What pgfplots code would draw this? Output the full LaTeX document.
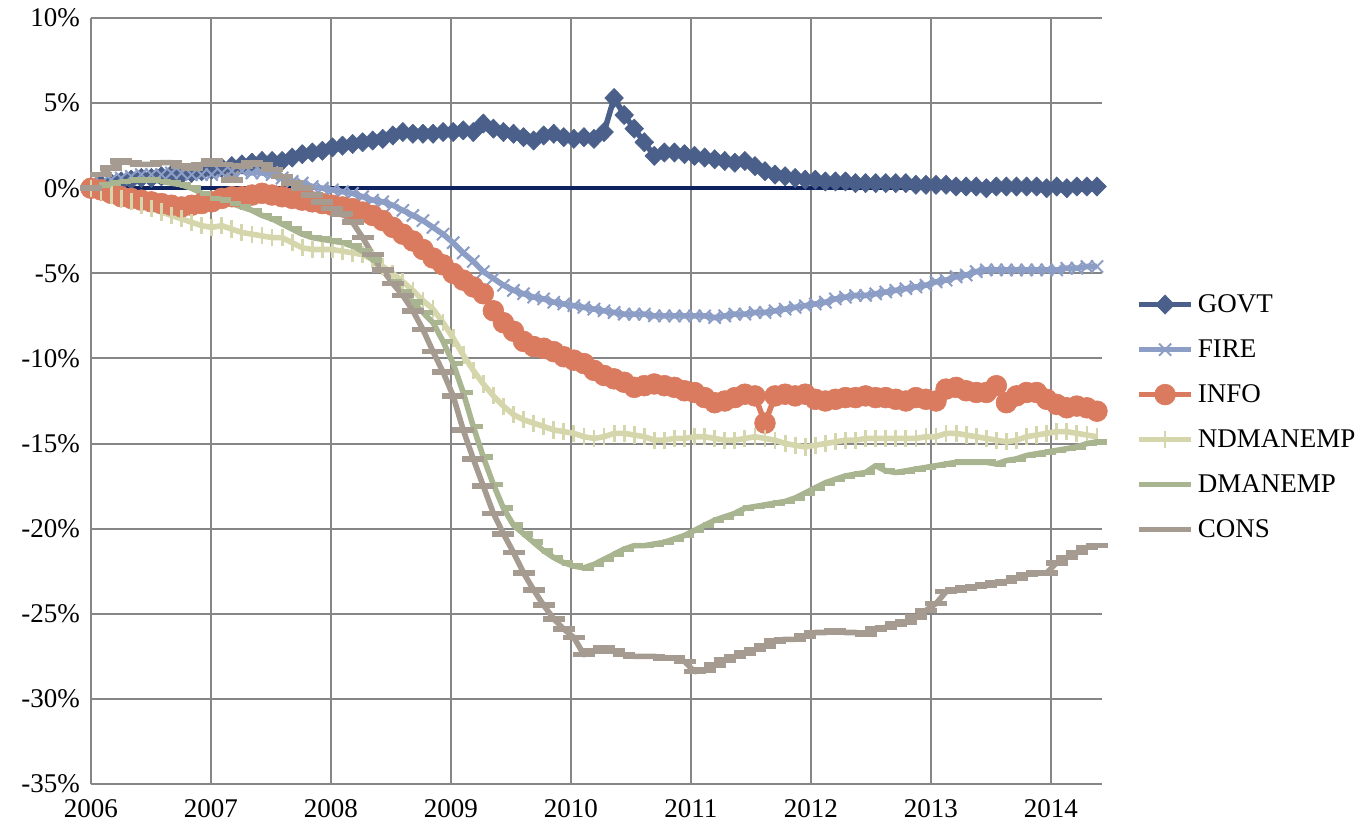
\documentclass[border=0pt]{standalone}
\usepackage{pgfplots}
\pgfplotsset{compat=1.18}
\usepackage{pgfplotstable}
\usepackage{fontspec}
\setmainfont{Liberation Serif}
\definecolor{govtc}{RGB}{74,96,138}
\definecolor{firec}{RGB}{140,157,198}
\definecolor{infoc}{RGB}{218,123,95}
\definecolor{ndmc}{RGB}{213,214,171}
\definecolor{dmc}{RGB}{169,181,145}
\definecolor{consc}{RGB}{166,155,144}
\definecolor{zeroc}{RGB}{14,34,96}
\definecolor{gridc}{RGB}{134,134,134}
\pgfplotstableread{
i govt fire info ndm dm cons
0 0.0 0.0 0.0 0.0 0.0 0.0
1 0.2 0.3 -0.1 -0.2 0.2 0.8
2 0.3 0.5 -0.3 -0.4 0.3 1.2
3 0.4 0.6 -0.5 -0.6 0.4 1.6
4 0.5 0.7 -0.6 -0.8 0.5 1.5
5 0.6 0.8 -0.7 -1.0 0.5 1.4
6 0.6 0.8 -0.8 -1.2 0.5 1.4
7 0.7 0.8 -0.9 -1.4 0.4 1.5
8 0.8 0.9 -1.0 -1.6 0.3 1.5
9 0.8 0.9 -1.1 -1.8 0.2 1.3
10 0.9 0.8 -1.0 -2.0 0.0 1.2
11 1.0 0.8 -0.9 -2.2 -0.3 1.4
12 1.1 0.8 -0.8 -2.3 -0.6 1.6
13 1.2 0.9 -0.6 -2.2 -0.7 1.4
14 1.3 1.0 -0.5 -2.4 -0.9 0.5
15 1.4 1.0 -0.5 -2.6 -1.1 1.3
16 1.5 0.9 -0.4 -2.7 -1.3 1.5
17 1.6 0.9 -0.3 -2.8 -1.6 1.4
18 1.6 0.8 -0.4 -2.9 -1.8 1.1
19 1.6 0.6 -0.5 -2.9 -2.1 0.7
20 1.8 0.4 -0.6 -3.2 -2.4 0.3
21 2.0 0.3 -0.7 -3.5 -2.7 0.0
22 2.1 0.1 -0.8 -3.6 -2.9 -0.4
23 2.2 0.0 -0.9 -3.6 -3.0 -0.8
24 2.4 -0.1 -1.0 -3.6 -3.1 -1.2
25 2.5 -0.2 -1.1 -3.7 -3.2 -1.5
26 2.6 -0.3 -1.2 -3.8 -3.4 -2.0
27 2.7 -0.5 -1.4 -3.9 -3.7 -2.9
28 2.8 -0.7 -1.6 -4.2 -4.2 -3.9
29 2.9 -0.8 -1.9 -4.6 -4.8 -4.8
30 3.1 -1.0 -2.3 -5.0 -5.5 -5.6
31 3.3 -1.3 -2.7 -5.5 -6.1 -6.3
32 3.2 -1.6 -3.1 -6.0 -6.7 -7.2
33 3.2 -1.9 -3.6 -6.6 -7.3 -8.3
34 3.2 -2.3 -4.1 -7.1 -7.9 -9.6
35 3.3 -2.7 -4.5 -7.9 -9.0 -10.8
36 3.3 -3.2 -5.0 -8.8 -10.3 -12.2
37 3.4 -3.8 -5.4 -9.8 -12.0 -14.2
38 3.3 -4.3 -5.8 -10.7 -14.0 -15.9
39 3.8 -4.9 -6.2 -11.5 -15.8 -17.5
40 3.5 -5.3 -7.2 -12.2 -17.4 -19.1
41 3.3 -5.7 -7.9 -12.8 -18.8 -20.3
42 3.2 -6.0 -8.4 -13.3 -19.8 -21.4
43 3.0 -6.2 -9.0 -13.6 -20.3 -22.6
44 2.8 -6.4 -9.3 -13.8 -20.8 -23.6
45 3.1 -6.5 -9.4 -14.0 -21.3 -24.5
46 3.2 -6.7 -9.6 -14.2 -21.7 -25.3
47 3.0 -6.8 -9.9 -14.3 -22.0 -25.9
48 2.9 -6.9 -10.1 -14.4 -22.2 -26.4
49 3.0 -7.0 -10.3 -14.6 -22.3 -27.4
50 2.9 -7.1 -10.7 -14.7 -22.1 -27.2
51 3.3 -7.2 -11.0 -14.6 -21.8 -27.0
52 5.3 -7.3 -11.2 -14.4 -21.5 -27.2
53 4.3 -7.4 -11.4 -14.4 -21.2 -27.4
54 3.5 -7.4 -11.7 -14.5 -21.0 -27.5
55 2.7 -7.4 -11.6 -14.6 -21.0 -27.5
56 1.9 -7.5 -11.5 -14.8 -20.9 -27.5
57 2.1 -7.5 -11.6 -14.8 -20.8 -27.6
58 2.1 -7.5 -11.7 -14.7 -20.6 -27.6
59 2.0 -7.5 -11.9 -14.7 -20.4 -27.8
60 1.9 -7.5 -12.0 -14.6 -20.1 -28.4
61 1.8 -7.5 -12.3 -14.6 -19.8 -28.3
62 1.7 -7.6 -12.6 -14.7 -19.5 -28.0
63 1.6 -7.5 -12.5 -14.8 -19.3 -27.7
64 1.5 -7.4 -12.3 -14.8 -19.1 -27.5
65 1.6 -7.4 -12.1 -14.7 -18.8 -27.3
66 1.3 -7.3 -12.2 -14.6 -18.7 -27.1
67 1.0 -7.3 -13.8 -14.7 -18.6 -26.9
68 0.8 -7.2 -12.2 -14.8 -18.5 -26.6
69 0.7 -7.1 -12.1 -15.0 -18.4 -26.5
70 0.6 -7.0 -12.2 -15.1 -18.2 -26.5
71 0.5 -6.9 -12.1 -15.2 -17.9 -26.3
72 0.5 -6.8 -12.4 -15.1 -17.6 -26.1
73 0.4 -6.7 -12.5 -15.0 -17.3 -26.1
74 0.4 -6.5 -12.4 -14.9 -17.1 -26.0
75 0.4 -6.4 -12.3 -14.8 -16.9 -26.1
76 0.3 -6.3 -12.3 -14.8 -16.8 -26.1
77 0.3 -6.3 -12.2 -14.7 -16.7 -26.2
78 0.3 -6.2 -12.3 -14.7 -16.3 -25.9
79 0.3 -6.1 -12.3 -14.7 -16.6 -25.8
80 0.3 -6.0 -12.4 -14.7 -16.7 -25.6
81 0.3 -5.9 -12.5 -14.7 -16.6 -25.5
82 0.2 -5.8 -12.3 -14.7 -16.5 -25.2
83 0.2 -5.7 -12.4 -14.6 -16.4 -24.8
84 0.2 -5.5 -12.5 -14.6 -16.3 -24.4
85 0.2 -5.4 -11.8 -14.4 -16.2 -23.7
86 0.1 -5.2 -11.7 -14.4 -16.1 -23.6
87 0.1 -5.1 -11.9 -14.5 -16.1 -23.5
88 0.1 -4.9 -12.0 -14.6 -16.1 -23.4
89 0.0 -4.8 -12.0 -14.7 -16.1 -23.3
90 0.1 -4.8 -11.6 -14.8 -16.2 -23.2
91 0.1 -4.8 -12.6 -14.9 -16.0 -23.1
92 0.1 -4.8 -12.2 -14.8 -15.9 -22.9
93 0.1 -4.8 -12.0 -14.6 -15.7 -22.7
94 0.1 -4.8 -12.0 -14.5 -15.6 -22.6
95 0.0 -4.8 -12.4 -14.4 -15.5 -22.6
96 0.1 -4.8 -12.7 -14.3 -15.4 -22.0
97 0.0 -4.7 -12.9 -14.3 -15.3 -21.7
98 0.1 -4.7 -12.8 -14.4 -15.2 -21.4
99 0.1 -4.6 -12.9 -14.5 -15.0 -21.1
100 0.1 -4.6 -13.1 -14.6 -14.9 -21.0
}\data
\begin{document}
\begin{tikzpicture}
\path[use as bounding box] (-45.5bp,-22.5bp) rectangle (634bp,392bp);
\begin{axis}[
  at={(0,0)}, anchor=south west,
  scale only axis, width=505.5bp, height=383bp,
  font=\fontsize{13.5bp}{16bp}\selectfont,
  xmin=0, xmax=100.5, ymin=-35, ymax=10,
  xtick={0,11.928,23.857,35.785,47.714,59.642,71.571,83.499,95.427},
  xticklabels={2006,2007,2008,2009,2010,2011,2012,2013,2014},
  ytick={-35,-30,...,10},
  yticklabels={-35\%,-30\%,-25\%,-20\%,-15\%,-10\%,-5\%,0\%,5\%,10\%},
  grid=major, major grid style={draw=gridc, line width=1bp},
  axis x line*=bottom, axis y line*=left,
  axis line style={draw=gridc, line width=1bp, -},
  major tick length=0pt,
  xticklabel style={yshift=-7.5bp, inner sep=0pt, text depth=0pt},
  yticklabel style={xshift=-2bp},
  clip=false,
  every axis plot/.append style={line width=2.8bp, line join=round},
  legend style={draw=none, fill=none, at={(axis description cs:1.0276,0.479)}, anchor=west,
    font=\fontsize{13.5bp}{16bp}\selectfont,
    nodes={inner sep=0pt, text height=10bp, text depth=2.5bp},
    row sep=10bp, /tikz/every even column/.append style={column sep=0bp}},
  legend cell align=left,
  legend image code/.code={\draw[mark repeat=2,mark phase=2] plot coordinates {(0bp,0bp) (13bp,0bp) (26bp,0bp)}; \path (28bp,0bp);},
]
\addplot[draw=zeroc, line width=2bp, forget plot] coordinates {(0,0) (100.5,0)};
\addplot[color=govtc, mark=diamond*, mark size=4.8bp, mark options={xscale=1.3, solid, line width=0.3bp}] table[x=i, y=govt] {\data};
\addlegendentry{GOVT}
\addplot[color=firec, mark=x, mark size=4.3bp, mark options={solid, line width=1bp}] table[x=i, y=fire] {\data};
\addlegendentry{FIRE}
\addplot[color=infoc, mark=*, mark size=5.2bp, mark options={solid, line width=0.3bp}] table[x=i, y=info] {\data};
\addlegendentry{INFO}
\addplot[color=ndmc, mark=|, mark size=4.3bp, mark options={solid, line width=1.4bp}] table[x=i, y=ndm] {\data};
\addlegendentry{NDMANEMP}
\addplot[color=dmc, mark=-, mark size=2.8bp, mark options={solid, line width=2.8bp, xshift=2bp}] table[x=i, y=dm] {\data};
\addlegendentry{DMANEMP}
\addplot[color=consc, mark=-, mark size=5.5bp, mark options={solid, line width=2.8bp}] table[x=i, y=cons] {\data};
\addlegendentry{CONS}
\end{axis}
\end{tikzpicture}
\end{document}
